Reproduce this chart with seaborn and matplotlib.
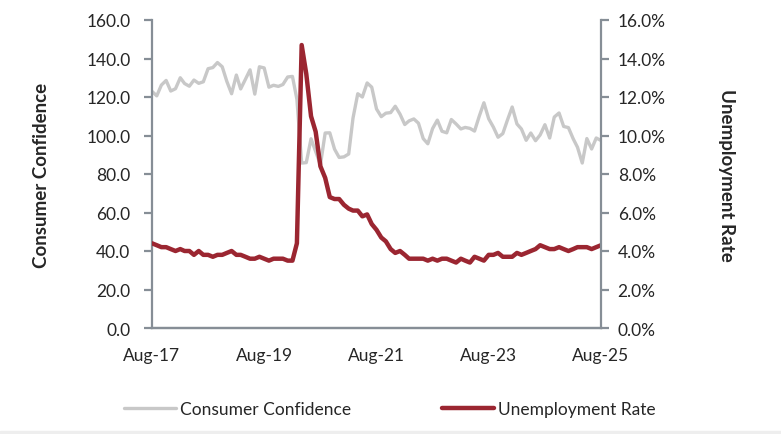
import numpy as np
import pandas as pd
import matplotlib
matplotlib.use("Agg")
import matplotlib.pyplot as plt
import matplotlib.dates as mdates
from matplotlib.ticker import FuncFormatter, MultipleLocator
import seaborn as sns

# Monthly data Aug-2017 .. Aug-2025
consumer_confidence = [
    122.9, 120.6, 126.2, 128.6, 123.1,                                   # 2017 Aug-Dec
    124.3, 130.0, 127.0, 125.6, 128.8, 127.1, 127.9, 134.7, 135.3, 137.9, 135.7, 128.1,  # 2018
    121.7, 131.4, 124.2, 129.2, 134.1, 121.5, 135.7, 135.1, 125.1, 126.1, 125.5, 126.5,  # 2019
    130.4, 130.7, 118.8, 85.7, 85.9, 98.3, 91.7, 84.8, 101.3, 101.4, 92.9, 88.6,        # 2020
    88.9, 90.4, 109.0, 121.7, 120.0, 127.3, 125.1, 113.8, 109.8, 111.6, 111.9, 115.2,  # 2021
    111.1, 105.7, 107.6, 108.6, 106.4, 98.4, 95.7, 103.6, 108.0, 102.2, 101.4, 108.3,  # 2022
    106.0, 103.4, 104.2, 103.7, 102.3, 110.1, 117.0, 108.7, 104.3, 99.1, 101.0, 108.0,  # 2023
    114.8, 106.0, 103.4, 97.5, 101.3, 97.3, 100.3, 105.6, 98.7, 109.6, 111.7, 104.7,   # 2024
    104.1, 98.3, 93.9, 85.7, 98.4, 93.0, 98.7, 97.4,                                   # 2025 Jan-Aug
]
unemployment_rate = [
    4.4, 4.3, 4.2, 4.2, 4.1,
    4.0, 4.1, 4.0, 4.0, 3.8, 4.0, 3.8, 3.8, 3.7, 3.8, 3.8, 3.9,
    4.0, 3.8, 3.8, 3.7, 3.6, 3.6, 3.7, 3.6, 3.5, 3.6, 3.6, 3.6,
    3.5, 3.5, 4.4, 14.7, 13.2, 11.0, 10.2, 8.4, 7.8, 6.8, 6.7, 6.7,
    6.4, 6.2, 6.1, 6.1, 5.8, 5.9, 5.4, 5.1, 4.7, 4.5, 4.1, 3.9,
    4.0, 3.8, 3.6, 3.6, 3.6, 3.6, 3.5, 3.6, 3.5, 3.6, 3.6, 3.5,
    3.4, 3.6, 3.5, 3.4, 3.7, 3.6, 3.5, 3.8, 3.8, 3.9, 3.7, 3.7,
    3.7, 3.9, 3.8, 3.9, 4.0, 4.1, 4.3, 4.2, 4.1, 4.1, 4.2, 4.1,
    4.0, 4.1, 4.2, 4.2, 4.2, 4.1, 4.2, 4.3,
]
dates = pd.date_range("2017-08-01", periods=len(consumer_confidence), freq="MS")
tick_dates = pd.to_datetime(["2017-08-01", "2019-08-01", "2021-08-01", "2023-08-01", "2025-08-01"])
tick_labels = ["Aug-17", "Aug-19", "Aug-21", "Aug-23", "Aug-25"]

df = pd.DataFrame({"date": dates, "cc": consumer_confidence, "ur": unemployment_rate})

sns.set_theme(style="white")
plt.rcParams["font.family"] = ["Lato", "DejaVu Sans"]

GRAY = "#C8C8C8"
RED = "#9B2631"
AXC = "#868E96"
TXT = "#262626"

fig = plt.figure(figsize=(7.81, 4.35), dpi=100)
ax = fig.add_axes([152/781, 1-329/435, (601-152)/781, (329-21)/435])
ax2 = ax.twinx()

sns.lineplot(data=df, x="date", y="cc", ax=ax, color=GRAY, lw=2.4, label="Consumer Confidence", legend=False)
sns.lineplot(data=df, x="date", y="ur", ax=ax2, color=RED, lw=3.2, label="Unemployment Rate", legend=False)

ax.set_xlim(dates[0], dates[-1])
ax.set_ylim(0, 160)
ax2.set_ylim(0, 16)
ax.yaxis.set_major_locator(MultipleLocator(20))
ax2.yaxis.set_major_locator(MultipleLocator(2))
ax.yaxis.set_major_formatter(FuncFormatter(lambda v, p: f"{v:.1f}"))
ax2.yaxis.set_major_formatter(FuncFormatter(lambda v, p: f"{v:.1f}%"))
ax.set_xticks(tick_dates)
ax.set_xticklabels(tick_labels)

for a in (ax, ax2):
    for s in a.spines.values():
        s.set_color(AXC)
        s.set_linewidth(1.6)
    a.spines["top"].set_visible(False)
    a.tick_params(colors=AXC, labelcolor=TXT, labelsize=12.5, length=6, width=1.6, direction="out")
ax.spines["right"].set_visible(False)
ax2.spines["left"].set_visible(False)
ax.tick_params(axis="x", pad=8)
ax.tick_params(axis="y", pad=9.5, left=True)
ax2.tick_params(axis="y", right=True, pad=6)

ax.set_xlabel("")
ax.set_ylabel("Consumer Confidence", fontsize=13.5, fontweight="bold", color=TXT)
ax2.set_ylabel("Unemployment Rate", fontsize=13.5, fontweight="bold", color=TXT, rotation=270)
ax.yaxis.set_label_coords(-(152-42)/449, 0.5)
ax2.yaxis.set_label_coords(1+(727-601)/449, 0.5)
ax2.yaxis.label.set_va("center")
ax.yaxis.label.set_va("center")

h1, l1 = ax.get_legend_handles_labels()
h2, l2 = ax2.get_legend_handles_labels()
fig.legend(h1 + h2, l1 + l2, loc="center", bbox_to_anchor=(390/781, 1-410/435), ncol=2,
           frameon=False, fontsize=12.5, handlelength=3.0, handletextpad=0.25, columnspacing=5.2,
           labelcolor=TXT)

fig.patches.append(plt.Rectangle((0, 0), 1, 3/435, transform=fig.transFigure, color="#EEEEEE", zorder=0))

fig.savefig("out.png", dpi=100)
